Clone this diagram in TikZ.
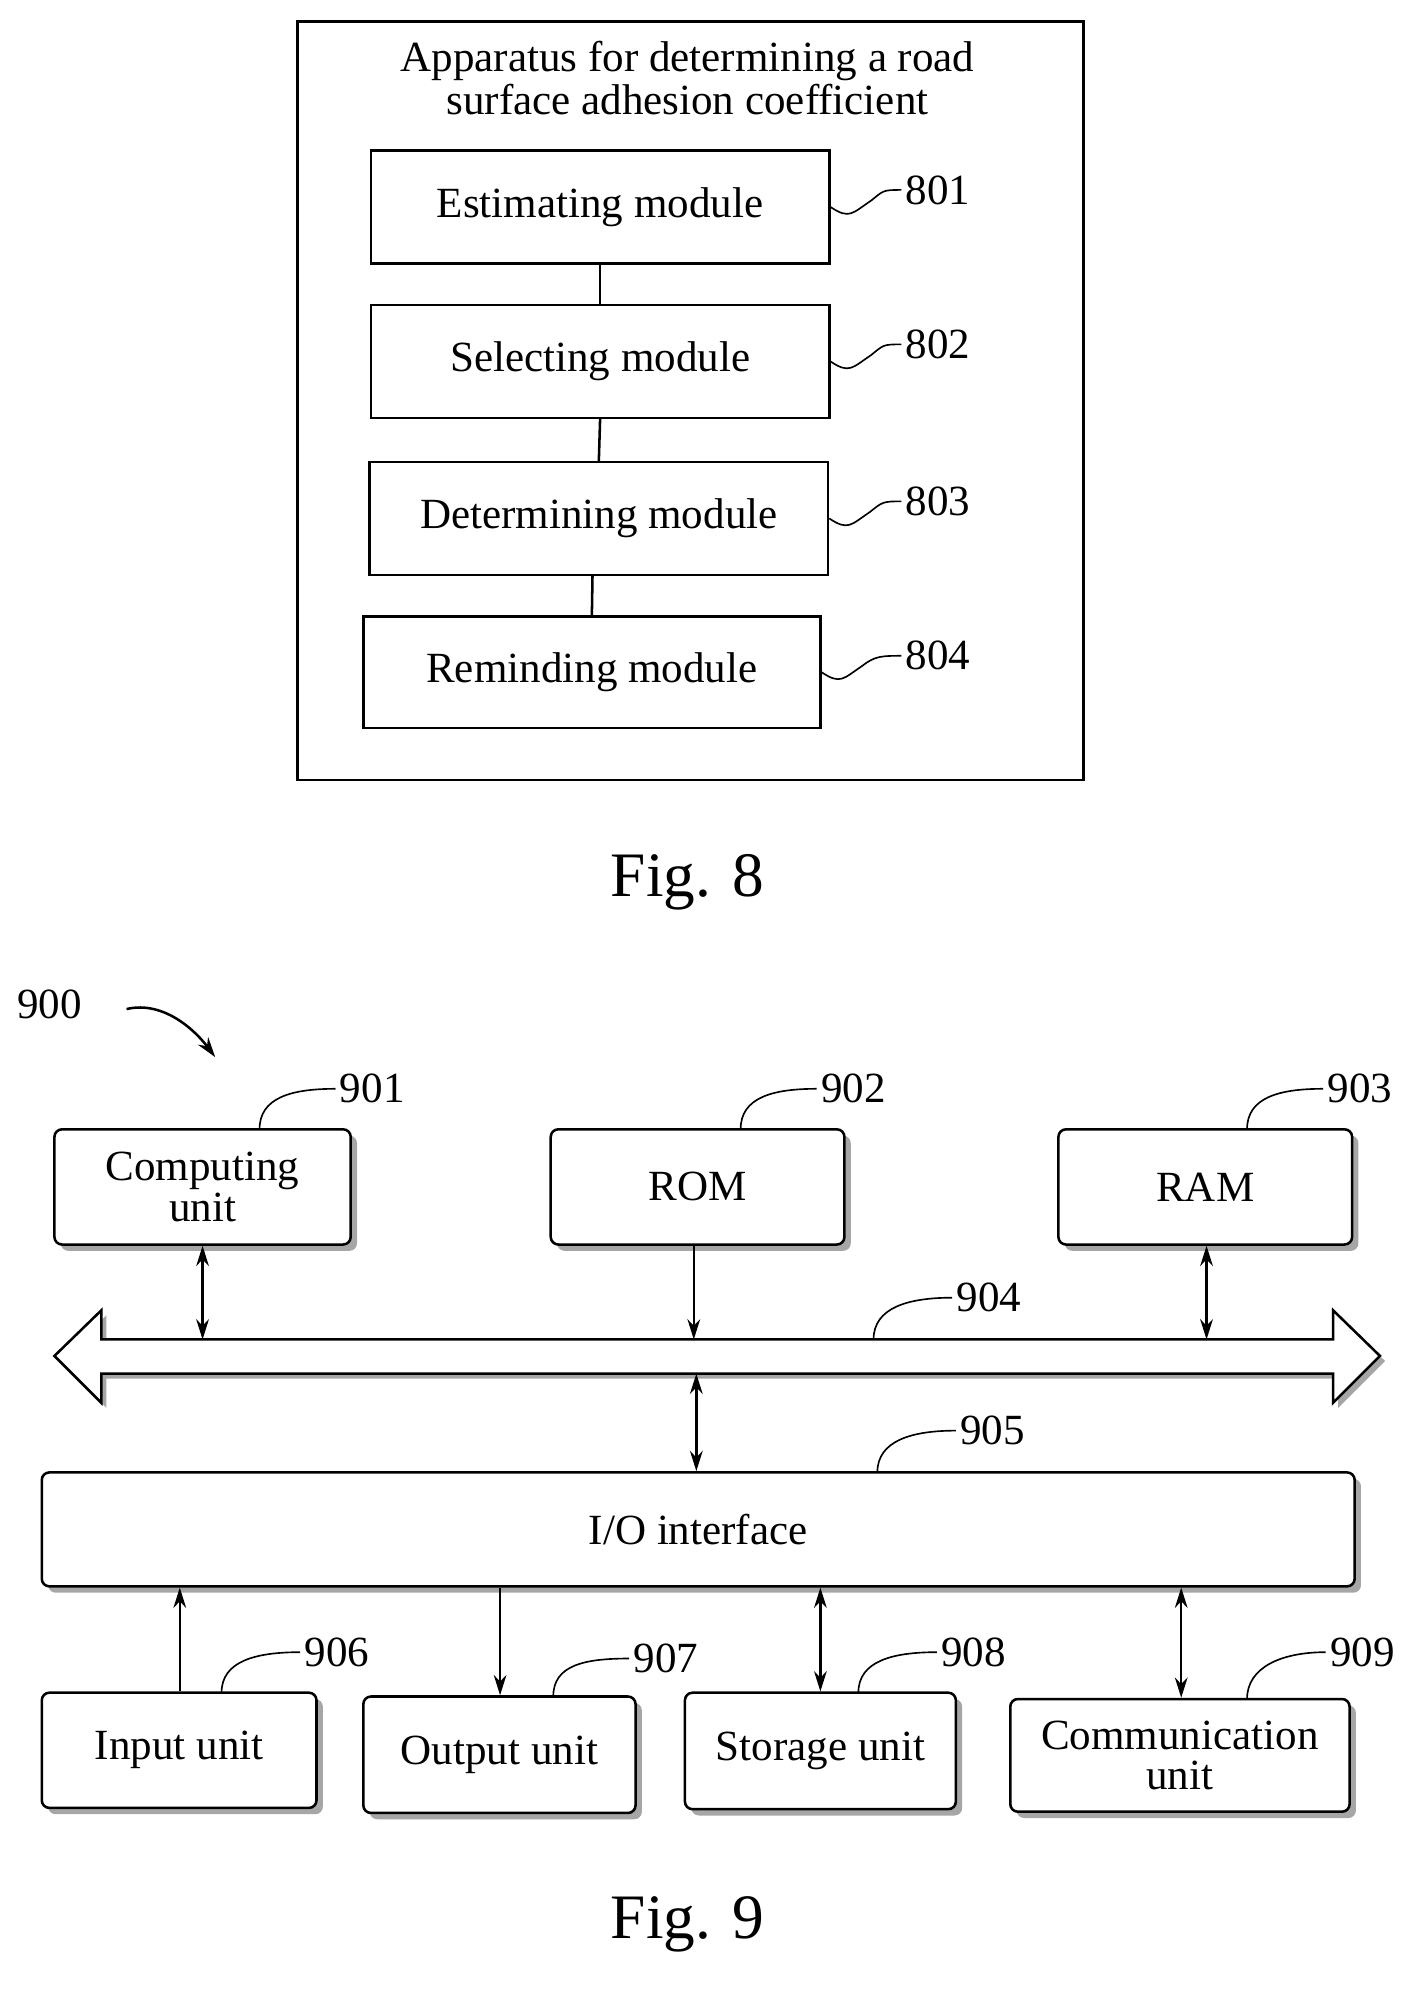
\documentclass[tikz,border=0pt]{standalone}
\usepackage{fontspec}
\setmainfont{Liberation Serif}
\usetikzlibrary{arrows.meta,shadows}
\begin{document}
\begin{tikzpicture}[x=1pt,y=-1pt,
  txt/.style={font=\fontsize{34}{38}\selectfont},
  lab/.style={font=\fontsize{34}{38}\selectfont,anchor=west},
  mod/.style={draw,line width=2pt,txt},
  box/.style={draw,line width=2pt,rounded corners=6pt,fill=white,txt,align=center,
     drop shadow={shadow xshift=5pt,shadow yshift=-5pt,fill=gray!70,opacity=1}},
  ln/.style={line width=2pt},
  arr/.style={line width=2pt,-{Stealth[length=16pt,width=10pt]}},
  darr/.style={line width=2pt,{Stealth[length=16pt,width=10pt]}-{Stealth[length=16pt,width=10pt]}}]
\useasboundingbox (0,0) rectangle (1127,1575);
% Fig 8
\draw[ln] (235,17) rectangle (856,616);
\node[txt,align=center] (title) at (543,62) {Apparatus for determining a road\\[-4pt]surface adhesion coefficient};
\node[mod,minimum width=362,minimum height=89] (m1) at (474,163.5) {Estimating module};
\node[mod,minimum width=362,minimum height=89] (m2) at (474,285.5) {Selecting module};
\node[mod,minimum width=362,minimum height=89] (m3) at (473,409.5) {Determining module};
\node[mod,minimum width=361,minimum height=88] (m4) at (467.5,531) {Reminding module};
\draw[ln] (m1.south) -- (m2.north);
\draw[ln] (m2.south) -- (m3.north);
\draw[ln] ([xshift=-5pt]m3.south) -- (m4.north);
\foreach \m/\t/\y in {m1/801/150,m2/802/272,m3/803/396,m4/804/518}{
  \node[lab] (l\t) at (712,\y) {\t};
  \draw[line width=1.3pt] (\m.east) .. controls +(15,10) and +(-15,10) .. +(32,-5) .. controls +(10,-8) and +(-15,0) .. (l\t.west);
}
\node[font=\fontsize{50}{56}\selectfont] (f8) at (543,697) {Fig. 8};
% Fig 9
\node[lab] (l900) at (10,793) {900};
\coordinate (a900) at (170,835);
\draw[line width=2pt,-{Stealth[length=16pt,width=10pt]}] (100,797) .. controls (130,790) and (155,815) .. (a900);
\node[box,minimum width=234,minimum height=91] (c1) at (160,937.5) {Computing\\[-6pt]unit};
\node[box,minimum width=232,minimum height=91] (rom) at (551,937.5) {ROM};
\node[box,minimum width=232,minimum height=91] (ram) at (952,937.5) {RAM};
% bus
\draw[line width=2pt,fill=white,drop shadow={shadow xshift=4pt,shadow yshift=-4pt,fill=gray!70,opacity=1}]
  (43,1071) -- (80,1035) -- (80,1058) -- (1053,1058) -- (1053,1035) -- (1090,1071)
  -- (1053,1108) -- (1053,1085) -- (80,1085) -- (80,1108) -- cycle;
\coordinate (b1) at (160,1058); \coordinate (b2) at (548,1058); \coordinate (b3) at (953,1058);
\coordinate (b4) at (550,1085);
\node[box,minimum width=1037,minimum height=90] (io) at (551.5,1208) {I/O interface};
\draw[darr] (c1.south) -- (b1);
\draw[arr] (rom.south -| b2) -- (b2);
\draw[darr] (ram.south -| b3) -- (b3);
\draw[darr] (b4) -- (io.north -| b4);
\node[box,minimum width=217,minimum height=91] (in) at (141.5,1382.5) {Input unit};
\node[box,minimum width=215,minimum height=92] (out) at (394.5,1386) {Output unit};
\node[box,minimum width=214,minimum height=92] (st) at (648,1383) {Storage unit};
\node[box,minimum width=268,minimum height=89] (cm) at (932,1386.5) {Communication\\[-6pt]unit};
\draw[arr] (in.north -| 142,0) -- (io.south -| 142,0);
\draw[arr] (io.south -| 395,0) -- (out.north -| 395,0);
\draw[darr] (io.south -| 648,0) -- (st.north -| 648,0);
\draw[darr] (io.south -| 933,0) -- (cm.north -| 933,0);
\foreach \t/\x/\y/\sx/\sy in {901/265/860/205/892,902/645/860/585/892,903/1045/860/985/892,
  904/752/1025/690/1058,905/755/1130/693/1163,906/237/1305/175/1337,907/497/1310/437/1340,
  908/740/1305/678/1337,909/1047/1305/985/1342}{
  \node[lab] (l\t) at (\x,\y) {\t};
  \draw[line width=1.3pt] (\sx,\sy) .. controls (\sx,\sy-25) and (\x-35,\y) .. (l\t.west);
}
\node[font=\fontsize{50}{56}\selectfont] (f9) at (543,1520) {Fig. 9};
\end{tikzpicture}
\end{document}
